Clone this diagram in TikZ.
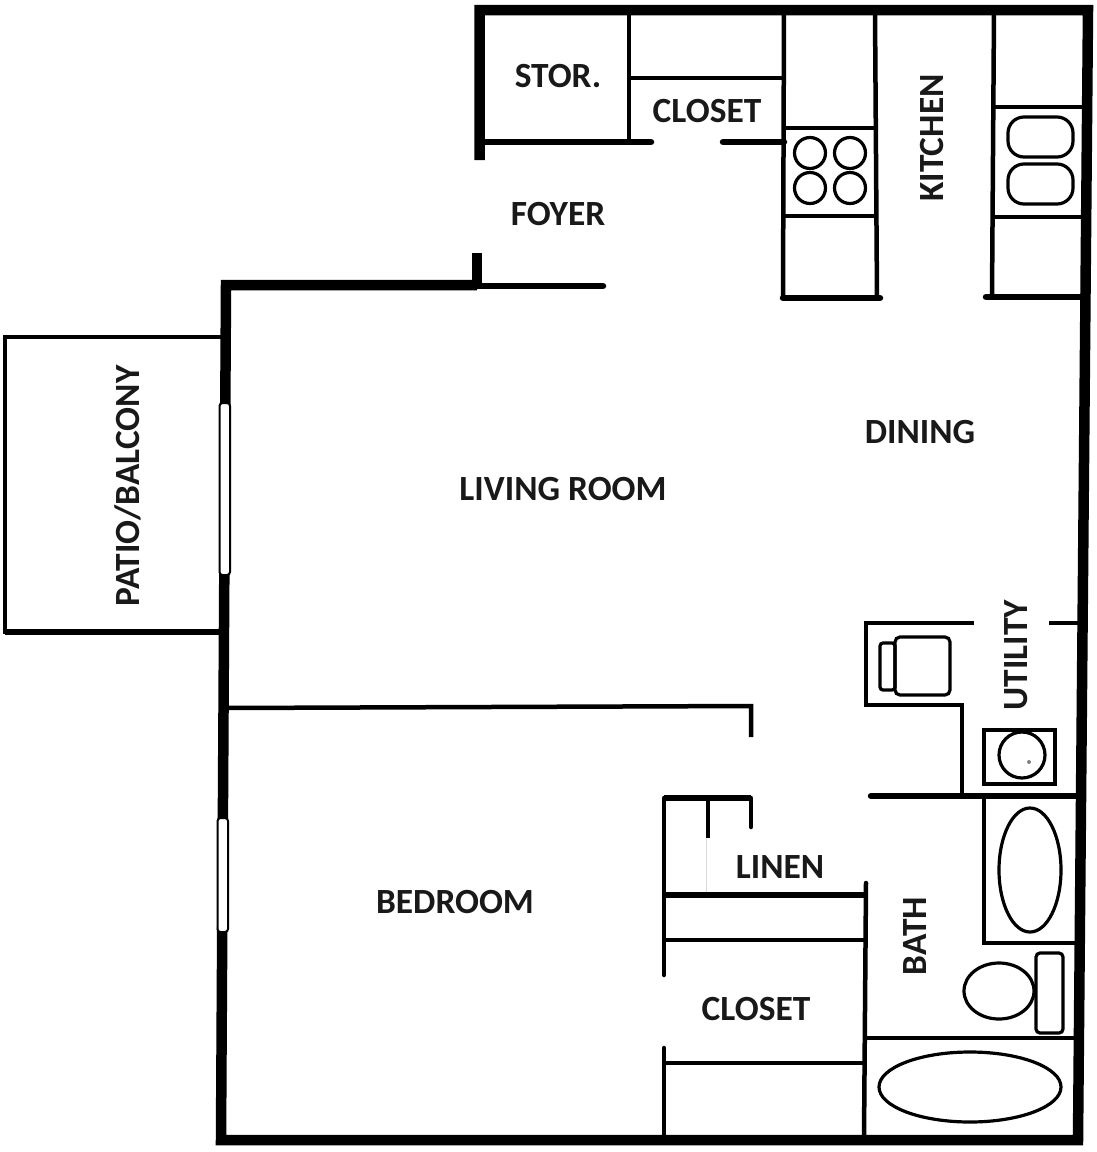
\documentclass[tikz,border=0pt]{standalone}
\usepackage{fontspec}
\setmainfont{Carlito}
\tikzset{
  wallheavy/.style={line width=10.5pt,line cap=butt,line join=miter,black},
  wallmid/.style={line width=6.5pt,line cap=round,line join=miter,black},
  wallthin/.style={line width=4.5pt,line cap=butt,line join=miter,black},
  fixture/.style={line width=3.2pt,black},
  fixturethin/.style={line width=2.6pt,black},
  roomlabel/.style={font=\bfseries\fontsize{35.4}{35.4}\selectfont,text=black!90,inner sep=0pt},
  windowbar/.style={draw=black,line width=2pt,fill=white,rounded corners=3pt}
}
\begin{document}
\begin{tikzpicture}[x=1pt,y=-1pt]
\useasboundingbox (0,0) rectangle (1097,1152);
% outer heavy walls
\draw[wallheavy] (479.5,160) -- (479.5,10) -- (1088,10) -- (1078,1140) -- (221,1140) -- (226,285) -- (477,285);
\draw[wallheavy] (477,253) -- (477,287);
\draw[wallmid] (477,286) -- (603,286);
% store / closet
\draw[wallmid] (479,142) -- (651,142);
\draw[wallmid] (723,142) -- (784,142);
\draw[wallthin] (629,12) -- (629,142);
\draw[wallthin] (629,78) -- (784,78);
% kitchen counters
\draw[wallthin] (784,12) -- (783,298);
\draw[wallthin] (875,12) -- (877,298);
\draw[wallmid] (783,298) -- (880,298);
\draw[wallthin] (784,128) -- (875,128);
\draw[wallthin] (784,216) -- (875,216);
\draw[wallthin] (994,12) -- (992,297);
\draw[wallmid] (986,297) -- (1082,297);
\draw[wallthin] (994,107) -- (1086,107);
\draw[wallthin] (994,217) -- (1085,217);
\draw[fixture] (810,153) circle (15.5);
\draw[fixture] (850,153) circle (15.5);
\draw[fixture] (810,188) circle (15.5);
\draw[fixture] (850,188) circle (15.5);
\draw[fixture,rounded corners=16pt] (1008,117) rectangle (1073,157);
\draw[fixture,rounded corners=16pt] (1008,164) rectangle (1073,204);
% patio
\draw[wallthin] (221,337) -- (5,337) -- (5,632) -- (221,632);
\draw[wallmid,line cap=butt] (5,632) -- (221,632);
% windows
\draw[windowbar] (219.5,403) rectangle (230,575);
\draw[windowbar] (217.5,818) rectangle (228,932);
% bedroom walls
\draw[wallthin] (226,708) -- (751,706) -- (751,737);
\draw[wallmid,line cap=butt] (664,798) -- (751,798);
\draw[wallthin,line cap=round] (751,798) -- (751,827);
\draw[wallthin,line cap=round] (664,798) -- (664,975);
\draw[line width=4pt,black] (708,798) -- (708,838);
\draw[line width=1pt,black!15] (706,838) -- (706,893);
\draw[wallmid,line cap=butt] (664,895) -- (866,895);
\draw[wallthin] (664,940) -- (866,940);
\draw[wallthin,line cap=round] (664,1048) -- (664,1138);
\draw[wallthin] (664,1063) -- (866,1063);
\draw[wallthin,line cap=round] (866,883) -- (864,1138);
% utility
\draw[wallthin] (974,623) -- (866,623) -- (866,705) -- (962,705) -- (962,796);
\draw[wallthin] (1049,623) -- (1082,623);
\draw[wallmid] (871,796) -- (1080,796);
\draw[fixture,rounded corners=5pt] (895,637) rectangle (950,695);
\draw[fixture,rounded corners=3pt] (880,643) rectangle (895,690);
\draw[fixture] (984,730) rectangle (1055,784);
\draw[fixture] (1022,755) circle (23);
\fill[black!50] (1029,762) circle (2);
% bath
\draw[wallthin] (984,796) -- (984,943) -- (1080,943);
\draw[fixture] (1030,870) ellipse (31 and 62);
\draw[fixture,rounded corners=4pt] (1036,953) rectangle (1063,1033);
\draw[fixture] (999,991) ellipse (35 and 28);
\draw[wallthin] (865,1038) -- (1078,1038);
\draw[fixture] (970,1087) ellipse (91 and 35);
% labels
\node[roomlabel] (stor) at (558,76) {STOR.};
\node[roomlabel] (closeta) at (707,111) {CLOSET};
\node[roomlabel] (foyer) at (558,214) {FOYER};
\node[roomlabel,rotate=90] (kitchen) at (932,138) {KITCHEN};
\node[roomlabel] (living) at (563,489) {LIVING ROOM};
\node[roomlabel] (dining) at (920,432) {DINING};
\node[roomlabel,rotate=90] (patio) at (128,486) {PATIO/BALCONY};
\node[roomlabel,rotate=90] (utility) at (1016,655) {UTILITY};
\node[roomlabel] (linen) at (780,867) {LINEN};
\node[roomlabel,rotate=90] (bath) at (915,936) {BATH};
\node[roomlabel] (bedroom) at (455,902) {BEDROOM};
\node[roomlabel] (closetb) at (756,1009) {CLOSET};
\end{tikzpicture}
\end{document}
